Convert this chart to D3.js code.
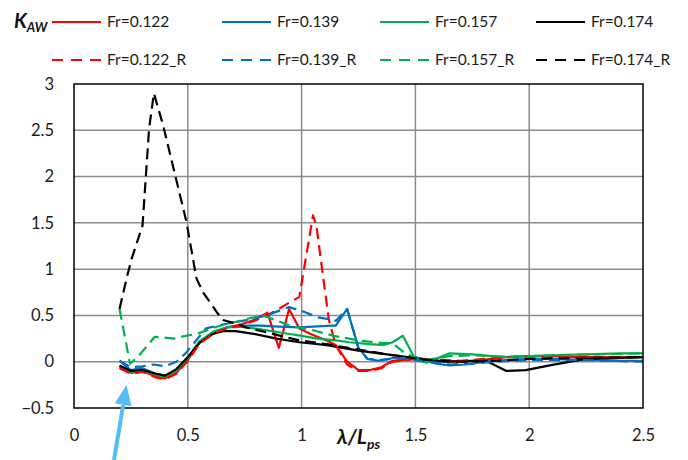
<!DOCTYPE html>
<html>
<head>
<meta charset="utf-8">
<script src="https://cdnjs.cloudflare.com/ajax/libs/d3/7.8.5/d3.min.js"></script>
<style>
  body{margin:0;background:#fff}
  svg{display:block;font-family:Lato,"Open Sans",sans-serif}
</style>
</head>
<body>
<svg id="chart" width="688" height="460"></svg>
<script>
// ---- data ----
var xTicks = [0, 0.5, 1, 1.5, 2, 2.5];
var yTicks = [-0.5, 0, 0.5, 1, 1.5, 2, 2.5, 3];

var fr122_x = [0.20,0.25,0.30,0.36,0.40,0.45,0.50,0.55,0.61,0.67,0.73,0.79,0.85,0.90,0.945,0.99,1.04,1.11,1.15,1.20,1.25,1.30,1.35,1.40,1.50,1.60,1.70,1.80,1.90,2.00,2.10,2.20,2.30,2.40,2.50];
var fr122_y = [-0.06,-0.12,-0.10,-0.16,-0.18,-0.12,0.02,0.20,0.31,0.37,0.40,0.45,0.53,0.15,0.57,0.36,0.30,0.23,0.18,0.00,-0.09,-0.09,-0.06,0.01,0.03,0.01,0.00,0.02,0.05,0.06,0.06,0.05,0.05,0.05,0.05];

var fr139_x = [0.20,0.25,0.30,0.36,0.40,0.45,0.50,0.55,0.61,0.67,0.73,0.82,0.90,0.99,1.05,1.13,1.15,1.20,1.25,1.29,1.34,1.40,1.50,1.59,1.65,1.72,1.81,1.91,2.00,2.10,2.20,2.30,2.40,2.50];
var fr139_y = [0.01,-0.09,-0.07,-0.13,-0.15,-0.10,0.04,0.21,0.32,0.37,0.39,0.39,0.38,0.37,0.38,0.39,0.39,0.57,0.15,0.03,0.01,0.04,0.05,-0.02,-0.04,-0.03,0.00,0.02,0.03,0.03,0.02,0.02,0.01,0.01];

var fr157_x = [0.20,0.25,0.30,0.36,0.40,0.45,0.50,0.55,0.61,0.67,0.73,0.82,0.92,1.00,1.07,1.15,1.21,1.30,1.36,1.40,1.445,1.50,1.55,1.65,1.75,1.84,1.91,2.00,2.10,2.25,2.40,2.50];
var fr157_y = [-0.05,-0.11,-0.09,-0.14,-0.16,-0.10,0.04,0.22,0.32,0.37,0.38,0.35,0.31,0.28,0.25,0.23,0.21,0.19,0.18,0.21,0.28,0.02,-0.01,0.09,0.08,0.06,0.05,0.06,0.07,0.08,0.09,0.09];

var fr174_x = [0.20,0.25,0.30,0.36,0.40,0.45,0.50,0.55,0.61,0.655,0.71,0.79,0.89,0.99,1.11,1.25,1.34,1.50,1.63,1.78,1.81,1.90,1.985,2.09,2.25,2.40,2.50];
var fr174_y = [-0.04,-0.10,-0.09,-0.13,-0.15,-0.08,0.05,0.20,0.30,0.33,0.33,0.30,0.25,0.21,0.18,0.12,0.09,0.04,0.00,0.01,0.01,-0.10,-0.09,-0.04,0.03,0.04,0.05];

var fr122R_x = [0.20,0.25,0.30,0.36,0.40,0.45,0.50,0.55,0.61,0.67,0.73,0.79,0.85,0.947,0.99,1.05,1.065,1.09,1.12,1.15,1.20,1.25,1.30,1.35,1.40,1.50,1.60,1.70,1.80,1.90,2.00,2.20,2.50];
var fr122R_y = [-0.07,-0.13,-0.11,-0.17,-0.19,-0.13,0.01,0.19,0.30,0.36,0.39,0.44,0.50,0.64,0.70,1.58,1.47,1.00,0.45,0.18,-0.03,-0.10,-0.10,-0.07,0.00,0.03,0.02,0.01,0.03,0.05,0.06,0.05,0.05];

var fr139R_x = [0.20,0.25,0.30,0.35,0.40,0.45,0.49,0.58,0.67,0.757,0.845,0.945,1.01,1.07,1.12,1.15,1.20,1.25,1.29,1.35,1.45,1.55,1.65,1.75,1.85,2.00,2.20,2.50];
var fr139R_y = [0.01,-0.06,-0.05,-0.03,-0.05,0.00,0.09,0.36,0.41,0.45,0.50,0.59,0.54,0.48,0.46,0.44,0.57,0.14,0.03,0.02,0.04,0.00,-0.03,-0.02,0.00,0.02,0.02,0.00];

var fr157R_x = [0.20,0.246,0.28,0.355,0.44,0.49,0.54,0.63,0.757,0.83,0.874,0.947,1.05,1.14,1.25,1.36,1.40,1.45,1.50,1.55,1.65,1.75,1.90,2.10,2.30,2.50];
var fr157R_y = [0.57,-0.02,0.05,0.27,0.25,0.28,0.30,0.38,0.46,0.50,0.46,0.39,0.34,0.28,0.23,0.20,0.20,0.10,0.04,0.02,0.06,0.07,0.05,0.07,0.08,0.09];

var fr174R_x = [0.20,0.231,0.253,0.301,0.33,0.351,0.392,0.494,0.538,0.567,0.626,0.654,0.70,0.757,0.874,0.99,1.11,1.25,1.40,1.55,1.70,1.85,2.00,2.20,2.50];
var fr174R_y = [0.57,0.90,1.11,1.47,2.52,2.90,2.55,1.51,0.90,0.75,0.54,0.45,0.42,0.37,0.30,0.23,0.19,0.13,0.07,0.02,0.00,0.01,0.03,0.04,0.05];

var series = [
  {name:"Fr=0.122",   xs:fr122_x,  ys:fr122_y,  color:"#ff0000", dash:false},
  {name:"Fr=0.139",   xs:fr139_x,  ys:fr139_y,  color:"#0070c0", dash:false},
  {name:"Fr=0.157",   xs:fr157_x,  ys:fr157_y,  color:"#00b050", dash:false},
  {name:"Fr=0.174",   xs:fr174_x,  ys:fr174_y,  color:"#000000", dash:false},
  {name:"Fr=0.122_R", xs:fr122R_x, ys:fr122R_y, color:"#ff0000", dash:true},
  {name:"Fr=0.139_R", xs:fr139R_x, ys:fr139R_y, color:"#0070c0", dash:true},
  {name:"Fr=0.157_R", xs:fr157R_x, ys:fr157R_y, color:"#00b050", dash:true},
  {name:"Fr=0.174_R", xs:fr174R_x, ys:fr174R_y, color:"#000000", dash:true}
];

// ---- layout ----
var svg = d3.select("#chart");
var pLeft = 74, pRight = 643, pTop = 84, pBottom = 408;
var x = d3.scaleLinear().domain([0,2.5]).range([pLeft,pRight]);
var y = d3.scaleLinear().domain([-0.5,3]).range([pBottom,pTop]);

// grid
svg.append("g").selectAll("line").data(xTicks.slice(1,-1)).enter().append("line")
  .attr("x1",function(d){return x(d);}).attr("x2",function(d){return x(d);})
  .attr("y1",pTop).attr("y2",pBottom)
  .attr("stroke","#8c8c8c").attr("stroke-width",1.5);
svg.append("g").selectAll("line").data(yTicks.slice(1,-1)).enter().append("line")
  .attr("x1",pLeft).attr("x2",pRight)
  .attr("y1",function(d){return y(d);}).attr("y2",function(d){return y(d);})
  .attr("stroke","#8c8c8c").attr("stroke-width",1.5);

// tick labels
var yAxis = svg.append("g").attr("transform","translate("+pLeft+",0)")
  .call(d3.axisLeft(y).tickValues(yTicks).tickSize(0).tickPadding(20).tickFormat(d3.format("")));
var xAxis = svg.append("g").attr("transform","translate(0,"+pBottom+")")
  .call(d3.axisBottom(x).tickValues(xTicks).tickSize(0).tickPadding(21).tickFormat(d3.format("")));
[yAxis,xAxis].forEach(function(a){
  a.select(".domain").remove();
  a.selectAll("text").attr("font-family","Lato,'Open Sans',sans-serif").attr("font-size",16.5).attr("fill","#1a1a1a");
});

// lines
var line = d3.line().x(function(d){return x(d[0]);}).y(function(d){return y(d[1]);});
svg.append("g").selectAll("path").data(series).enter().append("path")
  .attr("d",function(s){return line(d3.zip(s.xs,s.ys));})
  .attr("fill","none")
  .attr("stroke",function(s){return s.color;})
  .attr("stroke-width",2.2)
  .attr("stroke-linejoin","round")
  .attr("stroke-dasharray",function(s){return s.dash ? "11,6" : null;});

// plot border
svg.append("rect").attr("x",pLeft).attr("y",pTop).attr("width",pRight-pLeft).attr("height",pBottom-pTop)
  .attr("fill","none").attr("stroke","#000").attr("stroke-width",1.5);

// legend
var legX = [52,222,380,536];
var leg = svg.append("g").selectAll("g").data(series).enter().append("g")
  .attr("transform",function(s,i){return "translate("+legX[i%4]+","+(i<4?22:60)+")";});
leg.append("line").attr("x1",0).attr("x2",49).attr("y1",0).attr("y2",0)
  .attr("stroke",function(s){return s.color;}).attr("stroke-width",2.2)
  .attr("stroke-dasharray",function(s){return s.dash ? "11,8" : null;});
leg.append("text").attr("x",55).attr("y",0).attr("dy","0.35em")
  .attr("font-size",15.5).attr("fill","#1a1a1a").text(function(s){return s.name;});

// axis titles
var yt = svg.append("text").attr("x",14).attr("y",28).attr("font-weight","bold").attr("font-style","italic")
  .attr("font-size",20).attr("fill","#111");
yt.append("tspan").text("K");
yt.append("tspan").attr("font-size",13).attr("dy",4).text("AW");

var xt = svg.append("text").attr("x",337).attr("y",444).attr("font-weight","bold").attr("font-style","italic")
  .attr("font-size",21).attr("fill","#111");
xt.append("tspan").text("λ/L");
xt.append("tspan").attr("font-size",14).attr("dy",5).text("ps");

// blue arrow pointing at the start of the curves
var tail = [114,460], tip = [126.5,385];
var dx = tip[0]-tail[0], dy = tip[1]-tail[1], len = Math.sqrt(dx*dx+dy*dy);
var ux = dx/len, uy = dy/len, px = -uy, py = ux;
var bx = tip[0]-20*ux, by = tip[1]-20*uy;
svg.append("line").attr("x1",tail[0]).attr("y1",tail[1]).attr("x2",bx).attr("y2",by)
  .attr("stroke","#55bdf5").attr("stroke-width",4);
svg.append("path")
  .attr("d","M"+tip[0]+","+tip[1]+"L"+(bx+8.5*px)+","+(by+8.5*py)+"L"+(bx-8.5*px)+","+(by-8.5*py)+"Z")
  .attr("fill","#55bdf5");
</script>
</body>
</html>
